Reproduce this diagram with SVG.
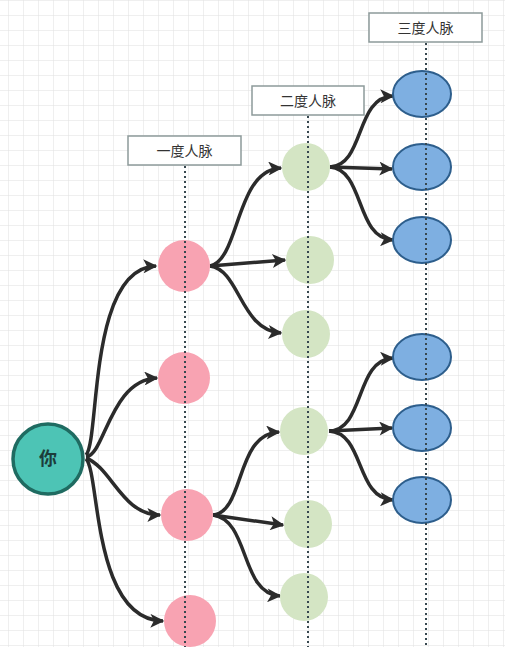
<svg xmlns="http://www.w3.org/2000/svg" width="505" height="647" viewBox="0 0 505 647">
<defs>
<pattern id="grid" x="8" y="0" width="15" height="15" patternUnits="userSpaceOnUse">
<path d="M15 0 L0 0 L0 15" fill="none" stroke="#e0e0e0" stroke-width="1"/>
</pattern>
<marker id="arr" viewBox="0 0 10 10" refX="9" refY="5" markerWidth="17" markerHeight="14" markerUnits="userSpaceOnUse" orient="auto">
<path d="M0,0 L10,5 L0,10 L2.5,5 z" fill="#2b2b2b"/>
</marker>
<style>
.edge{fill:none;stroke:#2b2b2b;stroke-width:3.5;marker-end:url(#arr)}
.guide{stroke:#37474f;stroke-width:2;stroke-dasharray:2 3}
.lbl{fill:#ffffff;stroke:#8d9a9a;stroke-width:1.5}
.lt{font-family:"Noto Sans CJK SC","Liberation Sans",sans-serif;font-size:14px;fill:#333333;text-anchor:middle}
.pink{fill:#f8a3b2}
.green{fill:#d4e5c4}
.blue{fill:#7eafe1;stroke:#2d5e8c;stroke-width:2}
</style>
</defs>
<rect width="505" height="647" fill="#ffffff"/>
<rect width="505" height="647" fill="url(#grid)"/>
<g id="label1"><rect class="lbl" x="128" y="136" width="113" height="29"/><text class="lt" x="184.5" y="155.5">一度人脉</text></g>
<g id="label2"><rect class="lbl" x="252" y="86" width="112" height="29"/><text class="lt" x="308" y="105.5">二度人脉</text></g>
<g id="label3"><rect class="lbl" x="369" y="13" width="113" height="29"/><text class="lt" x="425.5" y="32.5">三度人脉</text></g>
<g id="connectors">
<path class="edge" d="M86 455 C100 440, 88 268, 156 266"/>
<path class="edge" d="M86 457 C105 455, 110 380, 157 378"/>
<path class="edge" d="M86 458 C112 468, 122 515, 160 515"/>
<path class="edge" d="M86 459 C100 472, 92 620, 163 621"/>
<path class="edge" d="M210 266 C240 260, 235 170, 281 168"/>
<path class="edge" d="M210 266 L285 260"/>
<path class="edge" d="M210 266 C240 270, 240 330, 281 333"/>
<path class="edge" d="M330 167 C365 165, 355 97, 393 96"/>
<path class="edge" d="M330 167 L392 169"/>
<path class="edge" d="M330 167 C365 170, 355 238, 393 240"/>
<path class="edge" d="M213 515 C245 512, 235 434, 279 432"/>
<path class="edge" d="M213 515 L283 525"/>
<path class="edge" d="M213 515 C250 520, 240 594, 280 596"/>
<path class="edge" d="M329 431 C365 430, 355 360, 393 358"/>
<path class="edge" d="M329 431 L392 428"/>
<path class="edge" d="M329 431 C365 433, 355 498, 393 500"/>
</g>
<g id="you"><circle cx="48" cy="459" r="35" fill="#4dc4b5" stroke="#1f6b61" stroke-width="3.5"/><text x="48" y="465" font-family="Noto Sans CJK SC,Liberation Sans,sans-serif" font-size="18" font-weight="bold" fill="#1c3d3a" text-anchor="middle">你</text></g>
<g id="p1"><circle class="pink" cx="184" cy="266" r="26"/></g>
<g id="p2"><circle class="pink" cx="184" cy="378" r="26"/></g>
<g id="p3"><circle class="pink" cx="187" cy="515" r="26"/></g>
<g id="p4"><circle class="pink" cx="190" cy="621" r="26"/></g>
<g id="g1"><circle class="green" cx="306" cy="167" r="24"/></g>
<g id="g2"><circle class="green" cx="310" cy="260" r="24"/></g>
<g id="g3"><circle class="green" cx="306" cy="334" r="24"/></g>
<g id="g4"><circle class="green" cx="304" cy="431" r="24"/></g>
<g id="g5"><circle class="green" cx="308" cy="524" r="24"/></g>
<g id="g6"><circle class="green" cx="304" cy="597" r="24"/></g>
<g id="b1"><ellipse class="blue" cx="422" cy="94" rx="29" ry="23"/></g>
<g id="b2"><ellipse class="blue" cx="422" cy="167" rx="29" ry="23"/></g>
<g id="b3"><ellipse class="blue" cx="422" cy="240" rx="29" ry="23"/></g>
<g id="b4"><ellipse class="blue" cx="422" cy="357" rx="29" ry="23"/></g>
<g id="b5"><ellipse class="blue" cx="422" cy="428" rx="29" ry="23"/></g>
<g id="b6"><ellipse class="blue" cx="422" cy="500" rx="29" ry="23"/></g>
<g id="guides">
<line class="guide" x1="185" y1="166" x2="185" y2="647"/>
<line class="guide" x1="308" y1="116" x2="308" y2="647"/>
<line class="guide" x1="426" y1="43" x2="426" y2="647"/>
</g>
</svg>
